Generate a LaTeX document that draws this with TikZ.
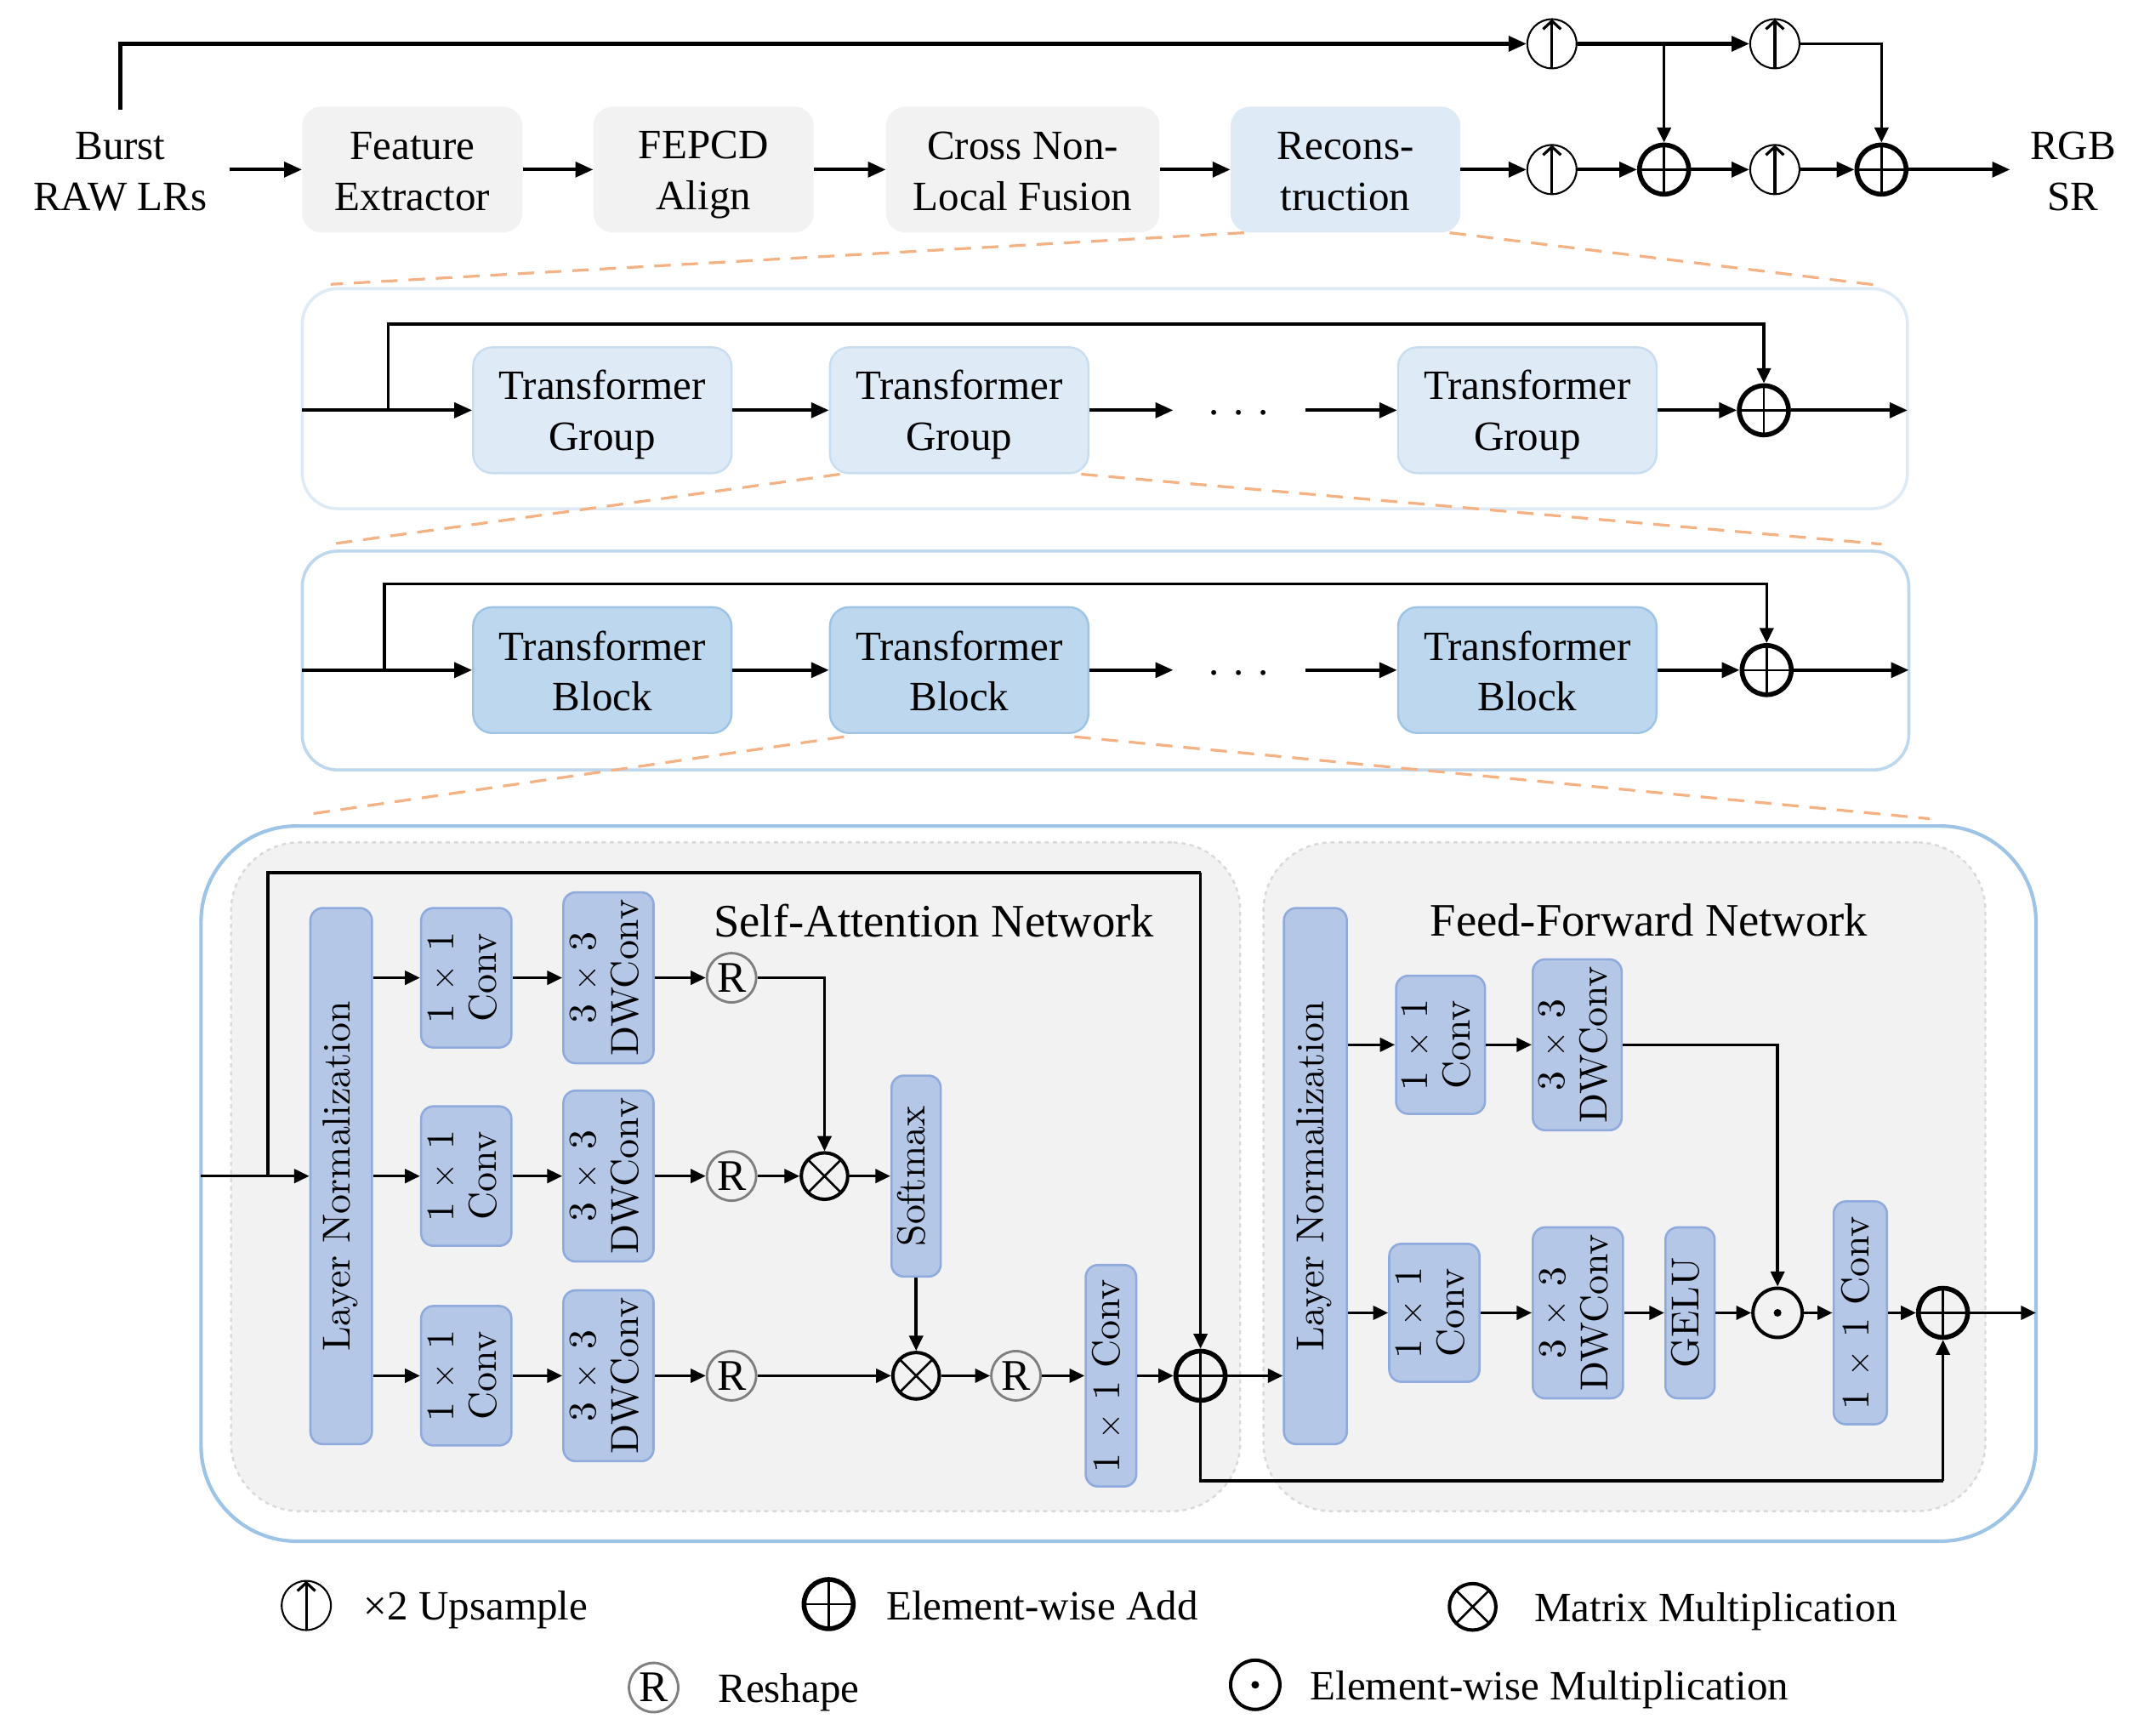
\documentclass[tikz,border=0pt]{standalone}
\usepackage{fontspec}
\newfontfamily\tnr{Liberation Serif}
\newfontfamily\lmten{lmroman10-regular.otf}
\usetikzlibrary{arrows.meta,calc}
\definecolor{gbox}{HTML}{F2F2F2}
\definecolor{lbA}{HTML}{DEEBF7}
\definecolor{lbAd}{HTML}{C9DDF1}
\definecolor{lbB}{HTML}{BDD7EE}
\definecolor{lbBd}{HTML}{9DC3E6}
\definecolor{bigd}{HTML}{9DC3E6}
\definecolor{sabl}{HTML}{B4C7E7}
\definecolor{sabd}{HTML}{8FAADC}
\definecolor{odash}{HTML}{F4B183}
\definecolor{pdash}{HTML}{D9D9D9}
\definecolor{rgray}{HTML}{7F7F7F}
\newcommand\myMainFont{\tnr\fontsize{30.5}{37}\selectfont}
\newcommand\myTitleFont{\tnr\fontsize{34}{40}\selectfont}
\newcommand\myLMFont{\lmten\fontsize{28.5}{31}\selectfont}
\newcommand\vlab[1]{\rotatebox{90}{\begin{tabular}{@{}c@{}}#1\end{tabular}}}
\newcommand\ms{\rule[-5.5pt]{0pt}{33.5pt}}
\begin{document}
\begin{tikzpicture}[x=1pt,y=-1pt,
  arr/.style={-{Triangle[length=13pt,width=11pt]}, line width=2.6pt},
  arrs/.style={-{Triangle[length=11pt,width=10pt]}, line width=2.2pt},
  plain/.style={line width=2.2pt},
  tbox/.style={rectangle, rounded corners=14pt, inner sep=0pt, align=center, font=\myMainFont},
  vbox/.style={rectangle, rounded corners=9pt, fill=sabl, draw=sabd, line width=1.6pt, inner sep=0pt, font=\myLMFont},
  orng/.style={draw=odash, line width=2pt, dash pattern=on 12pt off 8pt},
  upsym/.style={circle, draw, line width=1.3pt, minimum size=36pt, inner sep=0pt,
     path picture={\draw[line width=2pt, -{Straight Barb[length=6pt,width=13pt]}] (path picture bounding box.south) -- (path picture bounding box.north);}},
  addsym/.style={circle, draw, line width=3.5pt, minimum size=36pt, inner sep=0pt,
     path picture={\draw[line width=1.6pt] (path picture bounding box.south) -- (path picture bounding box.north) (path picture bounding box.west) -- (path picture bounding box.east);}},
  mulsym/.style={circle, draw, line width=2.5pt, minimum size=34pt, inner sep=0pt,
     path picture={\draw[line width=1.6pt] (path picture bounding box.north west) -- (path picture bounding box.south east) (path picture bounding box.south west) -- (path picture bounding box.north east);}},
  rsym/.style={circle, draw=rgray, line width=1.8pt, minimum size=36pt, inner sep=0pt, font=\tnr\fontsize{32}{32}\selectfont},
  dotsym/.style={circle, draw, line width=2.5pt, minimum size=36pt, inner sep=0pt,
     path picture={\fill (path picture bounding box.center) circle (2.8pt);}},
  txt/.style={font=\myMainFont, align=center, inner sep=0pt},
  lgt/.style={font=\myMainFont, anchor=west, inner sep=0pt}
]
\useasboundingbox (0,0) rectangle (1568,1269.4);

% ---------------- top row ----------------
\node[txt] (burst) at (88,124) {Burst\ms\\RAW LRs\ms};
\node[txt] (rgb) at (1516,124) {RGB\ms\\SR\ms};
\node[tbox, fill=gbox, minimum width=161pt, minimum height=92pt] (fe) at (301.5,124) {Feature\ms\\Extractor\ms};
\node[tbox, fill=gbox, minimum width=161pt, minimum height=92pt] (fa) at (514.5,124) {FEPCD\ms\\Align\ms};
\node[tbox, fill=gbox, minimum width=200pt, minimum height=92pt] (cnl) at (748,124) {Cross Non-\ms\\Local Fusion\ms};
\node[tbox, fill=lbA, minimum width=168pt, minimum height=92pt] (rec) at (984,124) {Recons-\ms\\truction\ms};
\node[upsym] (up1) at (1135,32) {};
\node[upsym] (up2) at (1298,32) {};
\node[upsym] (up3) at (1135,124) {};
\node[upsym] (up4) at (1298,124) {};
\node[addsym] (add1) at (1217,124) {};
\node[addsym] (add2) at (1376,124) {};
\coordinate (bt) at (88,80);
\coordinate (bst) at (168,124);
\coordinate (sro) at (1470,124);

\draw[arr] (bst) -- (fe);
\draw[arr] (fe) -- (fa);
\draw[arr] (fa) -- (cnl);
\draw[arr] (cnl) -- (rec);
\draw[arr] (rec) -- (up3);
\draw[arr] (up3) -- (add1);
\draw[arr] (add1) -- (up4);
\draw[arr] (up4) -- (add2);
\draw[arr] (add2) -- (sro);
\draw[arr] (bt) |- (up1);
\draw[arr] (up1) -- (up2);
\draw[arrs] (up1 -| add1) -- (add1);
\draw[arrs] (up2) -| (add2);

% ---------------- group panel ----------------
\node[rectangle, rounded corners=26pt, draw=lbA, line width=2.2pt, fill=white, minimum width=1174pt, minimum height=161pt, inner sep=0pt] (gp) at (808,291.5) {};
\draw[orng] ($(rec.south west)+(10,0)$) -- ($(gp.north west)+(22,-2)$);
\draw[orng] ($(rec.south east)+(-8,0)$) -- ($(gp.north east)+(-20,-1)$);
\node[tbox, fill=lbA, draw=lbAd, line width=1.5pt, minimum width=189pt, minimum height=92pt] (tg1) at (440.5,300) {Transformer\ms\\Group\ms};
\node[tbox, fill=lbA, draw=lbAd, line width=1.5pt, minimum width=189pt, minimum height=92pt] (tg2) at (701.5,300) {Transformer\ms\\Group\ms};
\node[tbox, fill=lbA, draw=lbAd, line width=1.5pt, minimum width=189pt, minimum height=92pt] (tg3) at (1117,300) {Transformer\ms\\Group\ms};
\node[addsym] (gadd) at (1290,300) {};
\node[font=\myMainFont, inner sep=0pt] (gdots) at (906,302) {. . .};
\coordinate (gin) at (221,300);
\coordinate (gbr) at (284,300);
\coordinate (gtop) at (1290,237);
\coordinate (gd1) at (858,300);
\coordinate (gd2) at (955,300);
\coordinate (gout) at (1395,300);
\draw[arr] (gin) -- (tg1);
\draw[arrs] (gbr) |- (gtop) -- (gadd);
\draw[arr] (tg1) -- (tg2);
\draw[arr] (tg2) -- (gd1);
\draw[arr] (gd2) -- (tg3);
\draw[arr] (tg3) -- (gadd);
\draw[arr] (gadd) -- (gout);

% ---------------- block panel ----------------
\node[rectangle, rounded corners=26pt, draw=lbB, line width=2.2pt, fill=white, minimum width=1175pt, minimum height=160pt, inner sep=0pt] (bp) at (808.5,483) {};
\draw[orng] ($(tg2.south west)+(8,0)$) -- ($(bp.north west)+(22,-4)$);
\draw[orng] ($(tg2.south east)+(-6,0)$) -- ($(bp.north east)+(-21,-4)$);
\node[tbox, fill=lbB, draw=lbBd, line width=1.5pt, minimum width=189pt, minimum height=92pt] (tb1) at (440.5,490) {Transformer\ms\\Block\ms};
\node[tbox, fill=lbB, draw=lbBd, line width=1.5pt, minimum width=189pt, minimum height=92pt] (tb2) at (701.5,490) {Transformer\ms\\Block\ms};
\node[tbox, fill=lbB, draw=lbBd, line width=1.5pt, minimum width=189pt, minimum height=92pt] (tb3) at (1117,490) {Transformer\ms\\Block\ms};
\node[addsym] (badd) at (1292,490) {};
\node[font=\myMainFont, inner sep=0pt] (bdots) at (906,492) {. . .};
\coordinate (bin) at (221,490);
\coordinate (bbr) at (281,490);
\coordinate (btop) at (1292,427);
\coordinate (bd1) at (858,490);
\coordinate (bd2) at (955,490);
\coordinate (bout) at (1396,490);
\draw[arr] (bin) -- (tb1);
\draw[arrs] (bbr) |- (btop) -- (badd);
\draw[arr] (tb1) -- (tb2);
\draw[arr] (tb2) -- (bd1);
\draw[arr] (bd2) -- (tb3);
\draw[arr] (tb3) -- (badd);
\draw[arr] (badd) -- (bout);

% ---------------- big panel ----------------
\node[rectangle, rounded corners=70pt, draw=bigd, line width=2.6pt, fill=white, minimum width=1342pt, minimum height=523pt, inner sep=0pt] (big) at (818,865.5) {};
\draw[orng] ($(tb2.south west)+(11,2)$) -- ($(big.north west)+(78,-7)$);
\draw[orng] ($(tb2.south east)+(-11,2)$) -- ($(big.north east)+(-79,-4)$);
\node[rectangle, rounded corners=50pt, fill=gbox, draw=pdash, dashed, line width=1.5pt, minimum width=738pt, minimum height=489pt, inner sep=0pt] (sap) at (538,860.5) {};
\node[rectangle, rounded corners=50pt, fill=gbox, draw=pdash, dashed, line width=1.5pt, minimum width=528pt, minimum height=489pt, inner sep=0pt] (ffp) at (1188,860.5) {};
\node[font=\myTitleFont, inner sep=0pt] (sat) at (683,673) {Self-Attention Network};
\node[font=\myTitleFont, inner sep=0pt] (fft) at (1206,673) {Feed-Forward Network};

% self-attention
\node[vbox, minimum width=45pt, minimum height=392pt] (ln1) at (249.5,860) {\vlab{Layer Normalization}};
\node[vbox, minimum width=66pt, minimum height=102pt] (c1) at (341,715) {\vlab{1 $\times$ 1\\Conv}};
\node[vbox, minimum width=66pt, minimum height=102pt] (c2) at (341,860) {\vlab{1 $\times$ 1\\Conv}};
\node[vbox, minimum width=66pt, minimum height=102pt] (c3) at (341,1006) {\vlab{1 $\times$ 1\\Conv}};
\node[vbox, minimum width=66pt, minimum height=125pt] (d1) at (445,715) {\vlab{3 $\times$ 3\\DWConv}};
\node[vbox, minimum width=66pt, minimum height=125pt] (d2) at (445,860) {\vlab{3 $\times$ 3\\DWConv}};
\node[vbox, minimum width=66pt, minimum height=125pt] (d3) at (445,1006) {\vlab{3 $\times$ 3\\DWConv}};
\node[rsym] (r1) at (535,715) {R};
\node[rsym] (r2) at (535,860) {R};
\node[rsym] (r3) at (535,1006) {R};
\node[mulsym] (m1) at (603,860) {};
\node[vbox, minimum width=36pt, minimum height=147pt] (sm) at (670,860) {\vlab{Softmax}};
\node[mulsym] (m2) at (670,1006) {};
\node[rsym] (r4) at (743,1006) {R};
\node[vbox, minimum width=37pt, minimum height=162pt] (cv) at (812.5,1006) {\vlab{1 $\times$ 1 Conv}};
\node[addsym] (sadd) at (878,1006) {};
\coordinate (sain) at (147,860);
\coordinate (sabr) at (196,860);
\coordinate (satop) at (878,638);
\coordinate (sabot) at (1421,1083);

\draw[arrs] (sain) -- (ln1);
\draw[plain] (sabr) |- (satop);
\draw[arrs] (satop) -- (sadd);
\foreach \c/\d/\r in {c1/d1/r1, c2/d2/r2, c3/d3/r3}{
  \draw[arrs] (ln1.east |- \c) -- (\c);
  \draw[arrs] (\c) -- (\d);
  \draw[arrs] (\d) -- (\r);
}
\draw[arrs] (r1) -| (m1);
\draw[arrs] (r2) -- (m1);
\draw[arrs] (m1) -- (sm);
\draw[arrs] (sm) -- (m2);
\draw[arrs] (r3) -- (m2);
\draw[arrs] (m2) -- (r4);
\draw[arrs] (r4) -- (cv);
\draw[arrs] (cv) -- (sadd);

% feed-forward
\node[vbox, minimum width=46pt, minimum height=392pt] (ln2) at (962,860) {\vlab{Layer Normalization}};
\node[vbox, minimum width=65pt, minimum height=101pt] (f1) at (1053.5,764) {\vlab{1 $\times$ 1\\Conv}};
\node[vbox, minimum width=65pt, minimum height=125pt] (f2) at (1153.5,764) {\vlab{3 $\times$ 3\\DWConv}};
\node[vbox, minimum width=66pt, minimum height=101pt] (f3) at (1049,960) {\vlab{1 $\times$ 1\\Conv}};
\node[vbox, minimum width=66pt, minimum height=125pt] (f4) at (1154,960) {\vlab{3 $\times$ 3\\DWConv}};
\node[vbox, minimum width=36pt, minimum height=125pt] (gelu) at (1236,960) {\vlab{GELU}};
\node[dotsym] (emul) at (1300,960) {};
\node[vbox, minimum width=39pt, minimum height=163pt] (f5) at (1360.5,960) {\vlab{1 $\times$ 1 Conv}};
\node[addsym] (fadd) at (1421,960) {};
\coordinate (fout) at (1489,960);

\draw[arrs] (sadd) -- (sadd -| ln2.west);
\draw[plain] (sadd) |- (sabot);
\draw[arrs] (sabot) -- (fadd);
\draw[arrs] (ln2.east |- f1) -- (f1);
\draw[arrs] (f1) -- (f2);
\draw[arrs] (f2) -| (emul);
\draw[arrs] (ln2.east |- f3) -- (f3);
\draw[arrs] (f3) -- (f4);
\draw[arrs] (f4) -- (gelu);
\draw[arrs] (gelu) -- (emul);
\draw[arrs] (emul) -- (f5);
\draw[arrs] (f5) -- (fadd);
\draw[arrs] (fadd) -- (fout);

% ---------------- legend ----------------
\node[upsym] (lu) at (224,1174) {};
\node[lgt] (lut) at (266,1174) {×2 Upsample\ms};
\node[addsym] (la) at (606,1173) {};
\node[lgt] (lat) at (648,1173) {Element-wise Add\ms};
\node[mulsym] (lm) at (1077,1175) {};
\node[lgt] (lmt) at (1122,1175) {Matrix Multiplication\ms};
\node[rsym] (lr) at (478,1234) {R};
\node[lgt] (lrt) at (525,1234) {Reshape\ms};
\node[dotsym] (ld) at (918,1232) {};
\node[lgt] (ldt) at (958,1232) {Element-wise Multiplication\ms};
\end{tikzpicture}
\end{document}
